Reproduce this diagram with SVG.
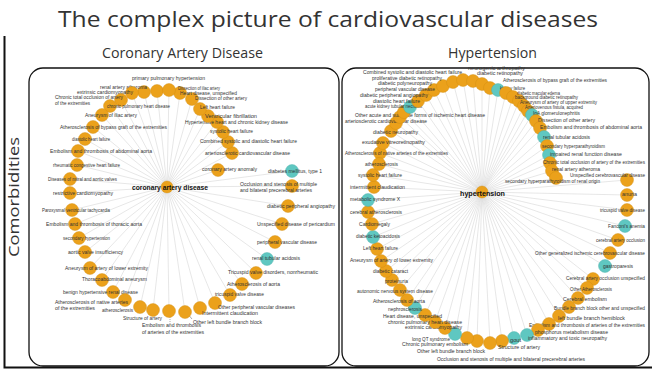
<svg xmlns="http://www.w3.org/2000/svg" width="652" height="369" viewBox="0 0 652 369">
<style>
.e{stroke:#cfcfcf;stroke-width:0.5}
.o{fill:#EBA11B;stroke:#D08C10;stroke-width:0.4}
.t{fill:#5FC7C1;stroke:#46ADA7;stroke-width:0.4}
.l{font-family:"Liberation Sans",Arial,sans-serif;font-size:5px;fill:#333}
.hub{font-family:"Liberation Sans",Arial,sans-serif;font-size:7.6px;font-weight:bold;fill:#111}
.h{font-family:"Open Sans","Liberation Sans",sans-serif;fill:#333}
.frame{fill:none;stroke:#111;stroke-width:1.3}
</style>
<rect width="652" height="369" fill="#fff"/>
<text class="h" x="58" y="27" font-size="21" textLength="540" lengthAdjust="spacingAndGlyphs">The complex picture of cardiovascular diseases</text>
<text class="h" x="102" y="58" font-size="14" textLength="161" lengthAdjust="spacingAndGlyphs">Coronary Artery Disease</text>
<text class="h" x="448" y="58" font-size="14" textLength="89" lengthAdjust="spacingAndGlyphs">Hypertension</text>
<text class="h" transform="translate(19,257) rotate(-90)" x="0" y="0" font-size="15" textLength="120" lengthAdjust="spacingAndGlyphs">Comorbidities</text>
<path d="M4.5 36V367.5H652" fill="none" stroke="#111" stroke-width="2"/>
<rect class="frame" x="29" y="68" width="310" height="298" rx="14"/>
<rect class="frame" x="342" y="68" width="307" height="298" rx="14"/>
<g id="connectors">
<line class="e" x1="167" y1="187" x2="157" y2="91"/>
<line class="e" x1="167" y1="187" x2="144" y2="92"/>
<line class="e" x1="167" y1="187" x2="132" y2="93"/>
<line class="e" x1="167" y1="187" x2="121" y2="100"/>
<line class="e" x1="167" y1="187" x2="110" y2="106"/>
<line class="e" x1="167" y1="187" x2="102" y2="115"/>
<line class="e" x1="167" y1="187" x2="93" y2="127"/>
<line class="e" x1="167" y1="187" x2="85" y2="139"/>
<line class="e" x1="167" y1="187" x2="78" y2="151"/>
<line class="e" x1="167" y1="187" x2="77" y2="165"/>
<line class="e" x1="167" y1="187" x2="70" y2="179"/>
<line class="e" x1="167" y1="187" x2="70" y2="193"/>
<line class="e" x1="167" y1="187" x2="72" y2="210"/>
<line class="e" x1="167" y1="187" x2="75" y2="224"/>
<line class="e" x1="167" y1="187" x2="79" y2="238"/>
<line class="e" x1="167" y1="187" x2="85" y2="252"/>
<line class="e" x1="167" y1="187" x2="90" y2="268"/>
<line class="e" x1="167" y1="187" x2="102" y2="280"/>
<line class="e" x1="167" y1="187" x2="113" y2="292"/>
<line class="e" x1="167" y1="187" x2="125" y2="300"/>
<line class="e" x1="167" y1="187" x2="140" y2="307"/>
<line class="e" x1="167" y1="187" x2="153" y2="310"/>
<line class="e" x1="167" y1="187" x2="169" y2="311"/>
<line class="e" x1="167" y1="187" x2="185" y2="312"/>
<line class="e" x1="167" y1="187" x2="200" y2="308"/>
<line class="e" x1="167" y1="187" x2="215" y2="303"/>
<line class="e" x1="167" y1="187" x2="230" y2="295"/>
<line class="e" x1="167" y1="187" x2="242" y2="284"/>
<line class="e" x1="167" y1="187" x2="256" y2="273"/>
<line class="e" x1="167" y1="187" x2="267" y2="259"/>
<line class="e" x1="167" y1="187" x2="275" y2="242"/>
<line class="e" x1="167" y1="187" x2="282" y2="224"/>
<line class="e" x1="167" y1="187" x2="288" y2="206"/>
<line class="e" x1="167" y1="187" x2="292" y2="186"/>
<line class="e" x1="167" y1="187" x2="292" y2="171"/>
<line class="e" x1="167" y1="187" x2="218" y2="170"/>
<line class="e" x1="167" y1="187" x2="232" y2="153"/>
<line class="e" x1="167" y1="187" x2="228" y2="142"/>
<line class="e" x1="167" y1="187" x2="223" y2="132"/>
<line class="e" x1="167" y1="187" x2="217" y2="122"/>
<line class="e" x1="167" y1="187" x2="208" y2="116"/>
<line class="e" x1="167" y1="187" x2="200" y2="109"/>
<line class="e" x1="167" y1="187" x2="192" y2="99"/>
<line class="e" x1="167" y1="187" x2="180" y2="93"/>
<line class="e" x1="167" y1="187" x2="169" y2="90"/>
<line x1="170" y1="317" x2="170" y2="324" stroke="#555" stroke-width="0.5" stroke-dasharray="1 1"/>
<line x1="187" y1="313" x2="192" y2="319" stroke="#555" stroke-width="0.5"/>
<line class="e" x1="482" y1="192" x2="380" y2="153"/>
<line class="e" x1="482" y1="192" x2="383" y2="143"/>
<line class="e" x1="482" y1="192" x2="391" y2="131"/>
<line class="e" x1="482" y1="192" x2="396" y2="123"/>
<line class="e" x1="482" y1="192" x2="400" y2="117"/>
<line class="e" x1="482" y1="192" x2="404" y2="112"/>
<line class="e" x1="482" y1="192" x2="410" y2="107"/>
<line class="e" x1="482" y1="192" x2="418" y2="101"/>
<line class="e" x1="482" y1="192" x2="426" y2="95"/>
<line class="e" x1="482" y1="192" x2="434" y2="90"/>
<line class="e" x1="482" y1="192" x2="443" y2="86"/>
<line class="e" x1="482" y1="192" x2="453" y2="82"/>
<line class="e" x1="482" y1="192" x2="463" y2="80"/>
<line class="e" x1="482" y1="192" x2="473" y2="81"/>
<line class="e" x1="482" y1="192" x2="482" y2="84"/>
<line class="e" x1="482" y1="192" x2="490" y2="88"/>
<line class="e" x1="482" y1="192" x2="498" y2="90"/>
<line class="e" x1="482" y1="192" x2="506" y2="93"/>
<line class="e" x1="482" y1="192" x2="513" y2="97"/>
<line class="e" x1="482" y1="192" x2="519" y2="101"/>
<line class="e" x1="482" y1="192" x2="524" y2="106"/>
<line class="e" x1="482" y1="192" x2="528" y2="111"/>
<line class="e" x1="482" y1="192" x2="532" y2="115"/>
<line class="e" x1="482" y1="192" x2="536" y2="121"/>
<line class="e" x1="482" y1="192" x2="540" y2="128"/>
<line class="e" x1="482" y1="192" x2="544" y2="137"/>
<line class="e" x1="482" y1="192" x2="547" y2="146"/>
<line class="e" x1="482" y1="192" x2="549" y2="155"/>
<line class="e" x1="482" y1="192" x2="550" y2="163"/>
<line class="e" x1="482" y1="192" x2="552" y2="171"/>
<line class="e" x1="482" y1="192" x2="556" y2="178"/>
<line class="e" x1="482" y1="192" x2="627" y2="180"/>
<line class="e" x1="482" y1="192" x2="627" y2="195"/>
<line class="e" x1="482" y1="192" x2="627" y2="210"/>
<line class="e" x1="482" y1="192" x2="625" y2="226"/>
<line class="e" x1="482" y1="192" x2="618" y2="240"/>
<line class="e" x1="482" y1="192" x2="610" y2="253"/>
<line class="e" x1="482" y1="192" x2="605" y2="266"/>
<line class="e" x1="482" y1="192" x2="593" y2="279"/>
<line class="e" x1="482" y1="192" x2="587" y2="288"/>
<line class="e" x1="482" y1="192" x2="578" y2="298"/>
<line class="e" x1="482" y1="192" x2="569" y2="307"/>
<line class="e" x1="482" y1="192" x2="559" y2="316"/>
<line class="e" x1="482" y1="192" x2="549" y2="324"/>
<line class="e" x1="482" y1="192" x2="538" y2="330"/>
<line class="e" x1="482" y1="192" x2="527" y2="335"/>
<line class="e" x1="482" y1="192" x2="514" y2="338"/>
<line class="e" x1="482" y1="192" x2="502" y2="341"/>
<line class="e" x1="482" y1="192" x2="490" y2="343"/>
<line class="e" x1="482" y1="192" x2="477" y2="341"/>
<line class="e" x1="482" y1="192" x2="467" y2="338"/>
<line class="e" x1="482" y1="192" x2="455" y2="334"/>
<line class="e" x1="482" y1="192" x2="445" y2="328"/>
<line class="e" x1="482" y1="192" x2="435" y2="322"/>
<line class="e" x1="482" y1="192" x2="425" y2="315"/>
<line class="e" x1="482" y1="192" x2="415" y2="308"/>
<line class="e" x1="482" y1="192" x2="407" y2="300"/>
<line class="e" x1="482" y1="192" x2="400" y2="290"/>
<line class="e" x1="482" y1="192" x2="392" y2="280"/>
<line class="e" x1="482" y1="192" x2="386" y2="271"/>
<line class="e" x1="482" y1="192" x2="381" y2="261"/>
<line class="e" x1="482" y1="192" x2="377" y2="249"/>
<line class="e" x1="482" y1="192" x2="373" y2="237"/>
<line class="e" x1="482" y1="192" x2="372" y2="224"/>
<line class="e" x1="482" y1="192" x2="368" y2="212"/>
<line class="e" x1="482" y1="192" x2="368" y2="200"/>
<line class="e" x1="482" y1="192" x2="374" y2="187"/>
<line class="e" x1="482" y1="192" x2="373" y2="175"/>
<line class="e" x1="482" y1="192" x2="379" y2="164"/>
</g>
<g id="cad-nodes">
<g id="cad-01"><circle class="o" cx="157" cy="91" r="6.5"/><text class="l" x="132" y="80" textLength="73" lengthAdjust="spacingAndGlyphs">primary pulmonary hypertension</text></g>
<g id="cad-02"><circle class="o" cx="144" cy="92" r="6.5"/><text class="l" x="100" y="89" textLength="47" lengthAdjust="spacingAndGlyphs">renal artery atheroma</text></g>
<g id="cad-03"><circle class="o" cx="132" cy="93" r="6.5"/><text class="l" x="77" y="94" textLength="56" lengthAdjust="spacingAndGlyphs">extrinsic cardiomyopathy</text></g>
<g id="cad-04"><circle class="o" cx="121" cy="100" r="6.5"/><text class="l" x="55" y="99" textLength="68" lengthAdjust="spacingAndGlyphs">Chronic total occlusion of artery</text><text class="l" x="55" y="105" textLength="35" lengthAdjust="spacingAndGlyphs">of the extremities</text></g>
<g id="cad-05"><circle class="o" cx="110" cy="106" r="6.5"/><text class="l" x="107" y="108" textLength="63" lengthAdjust="spacingAndGlyphs">chronic pulmonary heart disease</text></g>
<g id="cad-06"><circle class="o" cx="102" cy="115" r="6.5"/><text class="l" x="85" y="117" textLength="52" lengthAdjust="spacingAndGlyphs">Aneurysm of iliac artery</text></g>
<g id="cad-07"><circle class="o" cx="93" cy="127" r="6.5"/><text class="l" x="60" y="129" textLength="107" lengthAdjust="spacingAndGlyphs">Atherosclerosis of bypass graft of the extremities</text></g>
<g id="cad-08"><circle class="o" cx="85" cy="139" r="6.5"/><text class="l" x="72" y="141" textLength="38" lengthAdjust="spacingAndGlyphs">diastolic heart failure</text></g>
<g id="cad-09"><circle class="o" cx="78" cy="151" r="6.5"/><text class="l" x="50" y="153" textLength="102" lengthAdjust="spacingAndGlyphs">Embolism and thrombosis of abdominal aorta</text></g>
<g id="cad-10"><circle class="o" cx="77" cy="165" r="6.5"/><text class="l" x="53" y="167" textLength="67" lengthAdjust="spacingAndGlyphs">rheumatic congestive heart failure</text></g>
<g id="cad-11"><circle class="o" cx="70" cy="179" r="6.5"/><text class="l" x="48" y="181" textLength="69" lengthAdjust="spacingAndGlyphs">Diseases of mitral and aortic valves</text></g>
<g id="cad-12"><circle class="o" cx="70" cy="193" r="6.5"/><text class="l" x="53" y="195" textLength="60" lengthAdjust="spacingAndGlyphs">restrictive cardiomyopathy</text></g>
<g id="cad-13"><circle class="o" cx="72" cy="210" r="6.5"/><text class="l" x="42" y="212" textLength="68" lengthAdjust="spacingAndGlyphs">Paroxysmal ventricular tachycardia</text></g>
<g id="cad-14"><circle class="o" cx="75" cy="224" r="6.5"/><text class="l" x="46" y="226" textLength="96" lengthAdjust="spacingAndGlyphs">Embolism and thrombosis of thoracic aorta</text></g>
<g id="cad-15"><circle class="o" cx="79" cy="238" r="6.5"/><text class="l" x="63" y="240" textLength="47" lengthAdjust="spacingAndGlyphs">secondary hypertension</text></g>
<g id="cad-16"><circle class="o" cx="85" cy="252" r="6.5"/><text class="l" x="68" y="254" textLength="55" lengthAdjust="spacingAndGlyphs">aortic valve insufficiency</text></g>
<g id="cad-17"><circle class="o" cx="90" cy="268" r="6.5"/><text class="l" x="65" y="270" textLength="83" lengthAdjust="spacingAndGlyphs">Aneurysm of artery of lower extremity</text></g>
<g id="cad-18"><circle class="o" cx="102" cy="280" r="6.5"/><text class="l" x="82" y="281" textLength="65" lengthAdjust="spacingAndGlyphs">Thoracoabdominal aneurysm</text></g>
<g id="cad-19"><circle class="o" cx="113" cy="292" r="6.5"/><text class="l" x="63" y="294" textLength="75" lengthAdjust="spacingAndGlyphs">benign hypertensive renal disease</text></g>
<g id="cad-20"><circle class="o" cx="125" cy="300" r="6.5"/><text class="l" x="55" y="304" textLength="73" lengthAdjust="spacingAndGlyphs">Atherosclerosis of native arteries</text><text class="l" x="55" y="310" textLength="40" lengthAdjust="spacingAndGlyphs">of the extremities</text></g>
<g id="cad-21"><circle class="o" cx="140" cy="307" r="6.5"/><text class="l" x="102" y="312" textLength="31" lengthAdjust="spacingAndGlyphs">atherosclerosis</text></g>
<g id="cad-22"><circle class="o" cx="153" cy="310" r="6.5"/><text class="l" x="123" y="320" textLength="39" lengthAdjust="spacingAndGlyphs">Structure of artery</text></g>
<g id="cad-23"><circle class="o" cx="169" cy="311" r="6.5"/><text class="l" x="142" y="327" textLength="59" lengthAdjust="spacingAndGlyphs">Embolism and thrombosis</text><text class="l" x="142" y="334" textLength="62" lengthAdjust="spacingAndGlyphs">of arteries of the extremities</text></g>
<g id="cad-24"><circle class="o" cx="185" cy="312" r="6.5"/><text class="l" x="193" y="324" textLength="69" lengthAdjust="spacingAndGlyphs">Other left bundle branch block</text></g>
<g id="cad-25"><circle class="o" cx="200" cy="308" r="6.5"/><text class="l" x="202" y="315" textLength="56" lengthAdjust="spacingAndGlyphs">Intermittent claudication</text></g>
<g id="cad-26"><circle class="o" cx="215" cy="303" r="6.5"/><text class="l" x="218" y="309" textLength="77" lengthAdjust="spacingAndGlyphs">Other peripheral vascular diseases</text></g>
<g id="cad-27"><circle class="o" cx="230" cy="295" r="6.5"/><text class="l" x="215" y="296" textLength="49" lengthAdjust="spacingAndGlyphs">tricuspid valve disease</text></g>
<g id="cad-28"><circle class="o" cx="242" cy="284" r="6.5"/><text class="l" x="227" y="286" textLength="53" lengthAdjust="spacingAndGlyphs">Atherosclerosis of aorta</text></g>
<g id="cad-29"><circle class="o" cx="256" cy="273" r="6.5"/><text class="l" x="228" y="274" textLength="90" lengthAdjust="spacingAndGlyphs">Tricuspid valve disorders, nonrheumatic</text></g>
<g id="cad-30"><circle class="t" cx="267" cy="259" r="6.5"/><text class="l" x="252" y="260" textLength="48" lengthAdjust="spacingAndGlyphs">renal tubular acidosis</text></g>
<g id="cad-31"><circle class="o" cx="275" cy="242" r="6.5"/><text class="l" x="257" y="244" textLength="60" lengthAdjust="spacingAndGlyphs">peripheral vascular disease</text></g>
<g id="cad-32"><circle class="o" cx="282" cy="224" r="6.5"/><text class="l" x="257" y="226" textLength="78" lengthAdjust="spacingAndGlyphs">Unspecified disease of pericardium</text></g>
<g id="cad-33"><circle class="o" cx="288" cy="206" r="6.5"/><text class="l" x="267" y="208" textLength="68" lengthAdjust="spacingAndGlyphs">diabetic peripheral angiopathy</text></g>
<g id="cad-34"><circle class="o" cx="292" cy="186" r="6.5"/><text class="l" x="240" y="186" textLength="77" lengthAdjust="spacingAndGlyphs">Occlusion and stenosis of multiple</text><text class="l" x="240" y="191.5" textLength="72" lengthAdjust="spacingAndGlyphs">and bilateral precerebral arteries</text></g>
<g id="cad-35"><circle class="t" cx="292" cy="171" r="6.5"/><text class="l" x="268" y="173" textLength="54" lengthAdjust="spacingAndGlyphs">diabetes mellitus, type 1</text></g>
<g id="cad-36"><circle class="o" cx="218" cy="170" r="6.5"/><text class="l" x="202" y="171" textLength="55" lengthAdjust="spacingAndGlyphs">coronary artery anomaly</text></g>
<g id="cad-37"><circle class="o" cx="232" cy="153" r="6.5"/><text class="l" x="205" y="155" textLength="85" lengthAdjust="spacingAndGlyphs">arteriosclerotic cardiovascular disease</text></g>
<g id="cad-38"><circle class="o" cx="228" cy="142" r="6.5"/><text class="l" x="200" y="143" textLength="97" lengthAdjust="spacingAndGlyphs">Combined systolic and diastolic heart failure</text></g>
<g id="cad-39"><circle class="o" cx="223" cy="132" r="6.5"/><text class="l" x="210" y="133" textLength="43" lengthAdjust="spacingAndGlyphs">systolic heart failure</text></g>
<g id="cad-40"><circle class="o" cx="217" cy="122" r="6.5"/><text class="l" x="185" y="124" textLength="103" lengthAdjust="spacingAndGlyphs">Hypertensive heart and chronic kidney disease</text></g>
<g id="cad-41"><circle class="o" cx="208" cy="116" r="6.5"/><text class="l" x="205" y="118" textLength="52" lengthAdjust="spacingAndGlyphs">Ventricular fibrillation</text></g>
<g id="cad-42"><circle class="o" cx="200" cy="109" r="6.5"/><text class="l" x="200" y="109" textLength="35" lengthAdjust="spacingAndGlyphs">Left heart failure</text></g>
<g id="cad-43"><circle class="o" cx="192" cy="99" r="6.5"/><text class="l" x="195" y="99.5" textLength="52" lengthAdjust="spacingAndGlyphs">Dissection of other artery</text></g>
<g id="cad-44"><circle class="o" cx="180" cy="93" r="6.5"/><text class="l" x="180" y="94.5" textLength="57" lengthAdjust="spacingAndGlyphs">Heart disease, unspecified</text></g>
<g id="cad-45"><circle class="o" cx="169" cy="90" r="6.5"/><text class="l" x="178" y="89.5" textLength="42" lengthAdjust="spacingAndGlyphs">Dissection of iliac artery</text></g>
<g id="cad-hub"><circle class="o" cx="167" cy="187" r="6"/><text class="hub" x="132" y="190" textLength="76" lengthAdjust="spacingAndGlyphs">coronary artery disease</text></g>
</g>
<g id="htn-nodes">
<g id="htn-01"><circle class="o" cx="380" cy="153" r="6.5"/><text class="l" x="345" y="155" textLength="103" lengthAdjust="spacingAndGlyphs">Atherosclerosis of native arteries of the extremities</text></g>
<g id="htn-02"><circle class="o" cx="383" cy="143" r="6.5"/><text class="l" x="362" y="144" textLength="63" lengthAdjust="spacingAndGlyphs">exudative vitreoretinopathy</text></g>
<g id="htn-03"><circle class="o" cx="391" cy="131" r="6.5"/><text class="l" x="373" y="134" textLength="45" lengthAdjust="spacingAndGlyphs">diabetic neuropathy</text></g>
<g id="htn-04"><circle class="o" cx="396" cy="123" r="6.5"/><text class="l" x="345" y="123" textLength="82" lengthAdjust="spacingAndGlyphs">arteriosclerotic cardiovascular disease</text></g>
<g id="htn-05"><circle class="o" cx="400" cy="117" r="6.5"/><text class="l" x="355" y="117" textLength="130" lengthAdjust="spacingAndGlyphs">Other acute and subacute forms of ischemic heart disease</text></g>
<g id="htn-06"><circle class="o" cx="404" cy="112" r="6.5"/></g>
<g id="htn-07"><circle class="t" cx="410" cy="107" r="6.5"/><text class="l" x="365" y="108" textLength="57" lengthAdjust="spacingAndGlyphs">acute kidney tubular necrosis</text></g>
<g id="htn-08"><circle class="o" cx="418" cy="101" r="6.5"/><text class="l" x="373" y="103" textLength="47" lengthAdjust="spacingAndGlyphs">diastolic heart failure</text></g>
<g id="htn-09"><circle class="o" cx="426" cy="95" r="6.5"/><text class="l" x="360" y="97" textLength="68" lengthAdjust="spacingAndGlyphs">diabetic peripheral angiopathy</text></g>
<g id="htn-10"><circle class="o" cx="434" cy="90" r="6.5"/><text class="l" x="375" y="91" textLength="60" lengthAdjust="spacingAndGlyphs">peripheral vascular disease</text></g>
<g id="htn-11"><circle class="o" cx="443" cy="86" r="6.5"/><text class="l" x="378" y="85" textLength="54" lengthAdjust="spacingAndGlyphs">diabetic polyneuropathy</text></g>
<g id="htn-12"><circle class="o" cx="453" cy="82" r="6.5"/><text class="l" x="372" y="80" textLength="70" lengthAdjust="spacingAndGlyphs">proliferative diabetic retinopathy</text></g>
<g id="htn-13"><circle class="o" cx="463" cy="80" r="6.5"/><text class="l" x="363" y="74" textLength="99" lengthAdjust="spacingAndGlyphs">Combined systolic and diastolic heart failure</text></g>
<g id="htn-14"><circle class="o" cx="473" cy="81" r="6.5"/></g>
<g id="htn-15"><circle class="o" cx="482" cy="84" r="6.5"/><text class="l" x="468" y="70" textLength="57" lengthAdjust="spacingAndGlyphs">neurogenic arthropathy</text></g>
<g id="htn-16"><circle class="o" cx="490" cy="88" r="6.5"/><text class="l" x="477" y="75" textLength="46" lengthAdjust="spacingAndGlyphs">diabetic retinopathy</text></g>
<g id="htn-17"><circle class="t" cx="498" cy="90" r="6.5"/><text class="l" x="500" y="90" textLength="25" lengthAdjust="spacingAndGlyphs">kidney failure</text></g>
<g id="htn-18"><circle class="o" cx="506" cy="93" r="6.5"/><text class="l" x="503" y="82" textLength="104" lengthAdjust="spacingAndGlyphs">Atherosclerosis of bypass graft of the extremities</text></g>
<g id="htn-19"><circle class="o" cx="513" cy="97" r="6.5"/><text class="l" x="517" y="94.5" textLength="43" lengthAdjust="spacingAndGlyphs">diabetic macular edema</text></g>
<g id="htn-20"><circle class="o" cx="519" cy="101" r="6.5"/><text class="l" x="515" y="99" textLength="63" lengthAdjust="spacingAndGlyphs">background diabetic retinopathy</text></g>
<g id="htn-21"><circle class="o" cx="524" cy="106" r="6.5"/><text class="l" x="520" y="104" textLength="77" lengthAdjust="spacingAndGlyphs">Aneurysm of artery of upper extremity</text></g>
<g id="htn-22"><circle class="o" cx="528" cy="111" r="6.5"/><text class="l" x="525" y="109" textLength="58" lengthAdjust="spacingAndGlyphs">Arteriovenous fistula, acquired</text></g>
<g id="htn-23"><circle class="t" cx="532" cy="115" r="6.5"/><text class="l" x="533" y="115" textLength="47" lengthAdjust="spacingAndGlyphs">IgA glomerulonephritis</text></g>
<g id="htn-24"><circle class="o" cx="536" cy="121" r="6.5"/><text class="l" x="538" y="122" textLength="57" lengthAdjust="spacingAndGlyphs">Dissection of other artery</text></g>
<g id="htn-25"><circle class="o" cx="540" cy="128" r="6.5"/><text class="l" x="540" y="129" textLength="102" lengthAdjust="spacingAndGlyphs">Embolism and thrombosis of abdominal aorta</text></g>
<g id="htn-26"><circle class="t" cx="544" cy="137" r="6.5"/><text class="l" x="543" y="139" textLength="47" lengthAdjust="spacingAndGlyphs">renal tubular acidosis</text></g>
<g id="htn-27"><circle class="o" cx="547" cy="146" r="6.5"/><text class="l" x="542" y="148" textLength="63" lengthAdjust="spacingAndGlyphs">secondary hyperparathyroidism</text></g>
<g id="htn-28"><circle class="t" cx="549" cy="155" r="6.5"/><text class="l" x="550" y="156" textLength="72" lengthAdjust="spacingAndGlyphs">impaired renal function disease</text></g>
<g id="htn-29"><circle class="o" cx="550" cy="163" r="6.5"/><text class="l" x="543" y="164" textLength="102" lengthAdjust="spacingAndGlyphs">Chronic total occlusion of artery of the extremities</text></g>
<g id="htn-30"><circle class="o" cx="552" cy="171" r="6.5"/><text class="l" x="552" y="171" textLength="48" lengthAdjust="spacingAndGlyphs">renal artery atheroma</text></g>
<g id="htn-31"><circle class="o" cx="556" cy="178" r="6.5"/><text class="l" x="505" y="183" textLength="95" lengthAdjust="spacingAndGlyphs">secondary hyperparathyroidism of renal origin</text></g>
<g id="htn-32"><circle class="o" cx="627" cy="180" r="6.5"/><text class="l" x="570" y="177" textLength="75" lengthAdjust="spacingAndGlyphs">Unspecified cerebrovascular disease</text></g>
<g id="htn-33"><circle class="o" cx="627" cy="195" r="6.5"/><text class="l" x="622" y="196" textLength="15" lengthAdjust="spacingAndGlyphs">anuria</text></g>
<g id="htn-34"><circle class="o" cx="627" cy="210" r="6.5"/><text class="l" x="600" y="212" textLength="45" lengthAdjust="spacingAndGlyphs">tricuspid valve disease</text></g>
<g id="htn-35"><circle class="t" cx="625" cy="226" r="6.5"/><text class="l" x="608" y="228" textLength="37" lengthAdjust="spacingAndGlyphs">Fanconi's anemia</text></g>
<g id="htn-36"><circle class="o" cx="618" cy="240" r="6.5"/><text class="l" x="596" y="242" textLength="49" lengthAdjust="spacingAndGlyphs">cerebral artery occlusion</text></g>
<g id="htn-37"><circle class="o" cx="610" cy="253" r="6.5"/><text class="l" x="535" y="255" textLength="110" lengthAdjust="spacingAndGlyphs">Other generalized ischemic cerebrovascular disease</text></g>
<g id="htn-38"><circle class="t" cx="605" cy="266" r="6.5"/><text class="l" x="603" y="268" textLength="30" lengthAdjust="spacingAndGlyphs">gastroparesis</text></g>
<g id="htn-39"><circle class="o" cx="593" cy="279" r="6.5"/><text class="l" x="566" y="280" textLength="79" lengthAdjust="spacingAndGlyphs">Cerebral artery occlusion unspecified</text></g>
<g id="htn-40"><circle class="o" cx="587" cy="288" r="6.5"/><text class="l" x="570" y="291" textLength="42" lengthAdjust="spacingAndGlyphs">Other Atherosclerosis</text></g>
<g id="htn-41"><circle class="o" cx="578" cy="298" r="6.5"/><text class="l" x="563" y="301" textLength="44" lengthAdjust="spacingAndGlyphs">Cerebral embolism</text></g>
<g id="htn-42"><circle class="o" cx="569" cy="307" r="6.5"/><text class="l" x="554" y="310" textLength="91" lengthAdjust="spacingAndGlyphs">Bundle branch block other and unspecified</text></g>
<g id="htn-43"><circle class="o" cx="559" cy="316" r="6.5"/><text class="l" x="558" y="320" textLength="67" lengthAdjust="spacingAndGlyphs">left bundle branch hemiblock</text></g>
<g id="htn-44"><circle class="o" cx="549" cy="324" r="6.5"/><text class="l" x="529" y="327" textLength="116" lengthAdjust="spacingAndGlyphs">Embolism and thrombosis of arteries of the extremities</text></g>
<g id="htn-45"><circle class="o" cx="538" cy="330" r="6.5"/><text class="l" x="535" y="334" textLength="73" lengthAdjust="spacingAndGlyphs">phosphorus metabolism disease</text></g>
<g id="htn-46"><circle class="t" cx="527" cy="335" r="6.5"/><text class="l" x="528" y="340" textLength="79" lengthAdjust="spacingAndGlyphs">inflammatory and toxic neuropathy</text></g>
<g id="htn-47"><circle class="t" cx="514" cy="338" r="6.5"/><text class="l" x="510" y="342" textLength="11" lengthAdjust="spacingAndGlyphs">gout</text></g>
<g id="htn-48"><circle class="o" cx="502" cy="341" r="6.5"/><text class="l" x="498" y="349" textLength="42" lengthAdjust="spacingAndGlyphs">Structure of artery</text></g>
<g id="htn-49"><circle class="o" cx="490" cy="343" r="6.5"/><text class="l" x="437" y="361" textLength="148" lengthAdjust="spacingAndGlyphs">Occlusion and stenosis of multiple and bilateral precerebral arteries</text></g>
<g id="htn-50"><circle class="o" cx="477" cy="341" r="6.5"/><text class="l" x="417" y="353" textLength="68" lengthAdjust="spacingAndGlyphs">Other left bundle branch block</text></g>
<g id="htn-51"><circle class="o" cx="467" cy="338" r="6.5"/><text class="l" x="402" y="346" textLength="66" lengthAdjust="spacingAndGlyphs">Chronic pulmonary embolism</text></g>
<g id="htn-52"><circle class="t" cx="455" cy="334" r="6.5"/><text class="l" x="412" y="341" textLength="38" lengthAdjust="spacingAndGlyphs">long QT syndrome</text></g>
<g id="htn-53"><circle class="o" cx="445" cy="328" r="6.5"/><text class="l" x="405" y="329" textLength="57" lengthAdjust="spacingAndGlyphs">extrinsic cardiomyopathy</text></g>
<g id="htn-54"><circle class="o" cx="435" cy="322" r="6.5"/><text class="l" x="388" y="324" textLength="74" lengthAdjust="spacingAndGlyphs">chronic pulmonary heart disease</text></g>
<g id="htn-55"><circle class="o" cx="425" cy="315" r="6.5"/><text class="l" x="383" y="318" textLength="59" lengthAdjust="spacingAndGlyphs">Heart disease, unspecified</text></g>
<g id="htn-56"><circle class="t" cx="415" cy="308" r="6.5"/><text class="l" x="388" y="311" textLength="34" lengthAdjust="spacingAndGlyphs">nephrosclerosis</text></g>
<g id="htn-57"><circle class="o" cx="407" cy="300" r="6.5"/><text class="l" x="373" y="303" textLength="52" lengthAdjust="spacingAndGlyphs">Atherosclerosis of aorta</text></g>
<g id="htn-58"><circle class="o" cx="400" cy="290" r="6.5"/><text class="l" x="357" y="293" textLength="76" lengthAdjust="spacingAndGlyphs">autonomic nervous system disease</text></g>
<g id="htn-59"><circle class="o" cx="392" cy="280" r="6.5"/><text class="l" x="385" y="283" textLength="23" lengthAdjust="spacingAndGlyphs">proteinuria</text></g>
<g id="htn-60"><circle class="o" cx="386" cy="271" r="6.5"/><text class="l" x="373" y="273" textLength="35" lengthAdjust="spacingAndGlyphs">diabetic cataract</text></g>
<g id="htn-61"><circle class="o" cx="381" cy="261" r="6.5"/><text class="l" x="350" y="262" textLength="83" lengthAdjust="spacingAndGlyphs">Aneurysm of artery of lower extremity</text></g>
<g id="htn-62"><circle class="o" cx="377" cy="249" r="6.5"/><text class="l" x="363" y="250" textLength="35" lengthAdjust="spacingAndGlyphs">Left heart failure</text></g>
<g id="htn-63"><circle class="t" cx="373" cy="237" r="6.5"/><text class="l" x="356" y="238" textLength="44" lengthAdjust="spacingAndGlyphs">diabetic ketoacidosis</text></g>
<g id="htn-64"><circle class="o" cx="372" cy="224" r="6.5"/><text class="l" x="359" y="226" textLength="31" lengthAdjust="spacingAndGlyphs">Cardiomegaly</text></g>
<g id="htn-65"><circle class="o" cx="368" cy="212" r="6.5"/><text class="l" x="350" y="214" textLength="52" lengthAdjust="spacingAndGlyphs">cerebral atherosclerosis</text></g>
<g id="htn-66"><circle class="t" cx="368" cy="200" r="6.5"/><text class="l" x="350" y="201" textLength="50" lengthAdjust="spacingAndGlyphs">metabolic syndrome X</text></g>
<g id="htn-67"><circle class="o" cx="374" cy="187" r="6.5"/><text class="l" x="350" y="189" textLength="55" lengthAdjust="spacingAndGlyphs">intermittent claudication</text></g>
<g id="htn-68"><circle class="o" cx="373" cy="175" r="6.5"/><text class="l" x="358" y="177" textLength="44" lengthAdjust="spacingAndGlyphs">systolic heart failure</text></g>
<g id="htn-69"><circle class="o" cx="379" cy="164" r="6.5"/><text class="l" x="365" y="166" textLength="33" lengthAdjust="spacingAndGlyphs">atherosclerosis</text></g>
<g id="htn-hub"><circle class="o" cx="482" cy="192" r="6"/><text class="hub" x="460" y="196" textLength="45" lengthAdjust="spacingAndGlyphs">hypertension</text></g>
</g>
</svg>
